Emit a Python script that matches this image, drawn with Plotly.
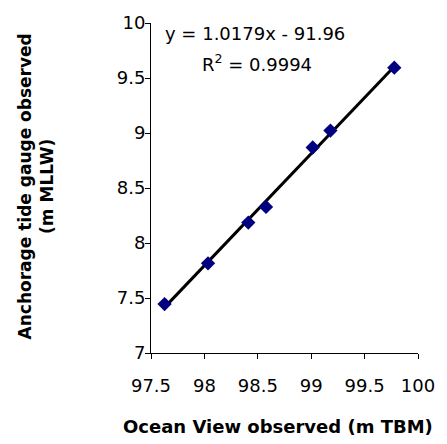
import plotly.graph_objects as go

# Observed water levels
ocean_view = [97.627, 98.034, 98.411, 98.577, 99.014, 99.180, 99.778]
anchorage = [7.445, 7.815, 8.186, 8.328, 8.868, 9.022, 9.594]

# Linear trendline coefficients
slope = 1.0179
intercept = -91.96
r_squared = 0.9994

x_ticks = [97.5, 98, 98.5, 99, 99.5, 100]
y_ticks = [7, 7.5, 8, 8.5, 9, 9.5, 10]

font_family = "DejaVu Sans, Arial, sans-serif"

x_fit = [min(ocean_view), max(ocean_view)]
y_fit = [slope * v + intercept for v in x_fit]

fig = go.Figure()
fig.add_trace(go.Scatter(
    x=x_fit, y=y_fit, mode="lines",
    line=dict(color="black", width=3), showlegend=False, hoverinfo="skip",
))
fig.add_trace(go.Scatter(
    x=ocean_view, y=anchorage, mode="markers",
    marker=dict(symbol="diamond", color="#000080", size=11,
                line=dict(width=0)),
    showlegend=False,
))

fig.update_layout(
    width=447, height=444,
    margin=dict(l=151, r=20, t=16, b=91),
    paper_bgcolor="white", plot_bgcolor="white",
    font=dict(family=font_family, size=18, color="black"),
    xaxis=dict(
        range=[97.5, 100], tickvals=x_ticks, ticktext=[f"{v:g}" for v in x_ticks],
        showline=True, linecolor="black", linewidth=1, mirror=False,
        ticks="outside", ticklen=5, tickcolor="black", showgrid=False,
        zeroline=False, tickfont=dict(size=18), ticklabelstandoff=11,
    ),
    yaxis=dict(
        range=[7, 10], tickvals=y_ticks, ticktext=[f"{v:g}" for v in y_ticks],
        showline=True, linecolor="black", linewidth=1, mirror=False,
        ticks="outside", ticklen=5, tickcolor="black", showgrid=False,
        zeroline=False, tickfont=dict(size=18), ticklabelstandoff=-4,
    ),
    annotations=[
        dict(text=f"y = {slope:.4f}x - {abs(intercept):.2f}",
             xref="paper", yref="paper", x=(259 - 151) / 276, y=(353 - 27) / 337,
             showarrow=False, xanchor="center", yanchor="middle",
             font=dict(size=18)),
        dict(text=f"R<sup>2</sup> = {r_squared:.4f}",
             xref="paper", yref="paper", x=(261 - 151) / 276, y=(353 - 57) / 337,
             showarrow=False, xanchor="center", yanchor="middle",
             font=dict(size=18)),
        dict(text="<b>Ocean View observed (m TBM)</b>",
             xref="paper", yref="paper", x=(282 - 151) / 276, y=(353 - 428) / 337,
             showarrow=False, xanchor="center", yanchor="middle",
             font=dict(size=18)),
        dict(text="<b>Anchorage tide gauge observed<br>(m MLLW)</b>",
             xref="paper", yref="paper", x=(32 - 151) / 276, y=(353 - 183) / 337,
             showarrow=False, xanchor="center", yanchor="middle", textangle=-90,
             font=dict(size=17)),
    ],
)

fig.write_html("out.html")
